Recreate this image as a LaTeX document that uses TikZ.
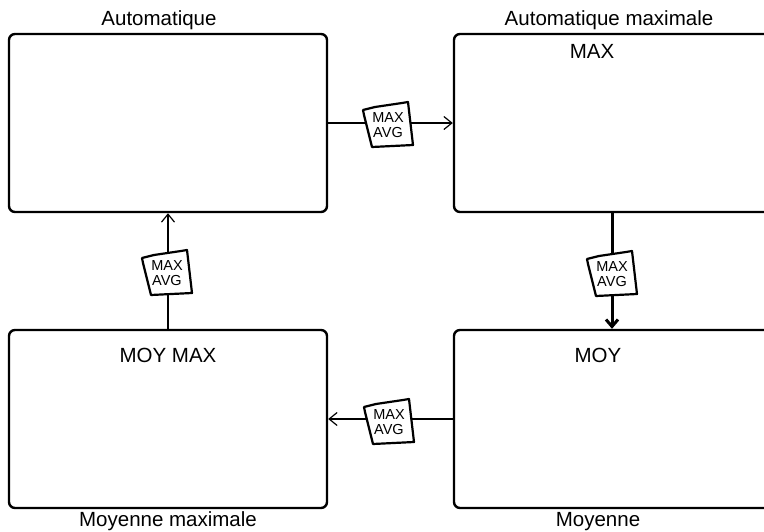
\documentclass[tikz,border=0pt]{standalone}
\usepackage{fontspec}
\setmainfont{Liberation Sans}
\usetikzlibrary{arrows.meta}
\begin{document}
\begin{tikzpicture}[x=1pt,y=-1pt,
  box/.style={draw, line width=2.4pt, rounded corners=6pt, minimum width=318pt, minimum height=178pt, inner sep=0pt},
  lbl/.style={font=\fontsize{20.5}{24}\selectfont, inner sep=0pt, anchor=base},
  conn/.style={line width=1.2pt, -{Straight Barb[length=8pt,width=13pt]}},
  thickconn/.style={line width=3pt, -{Straight Barb[length=7pt,width=12pt]}},
  tagbox/.style={draw, fill=white, line width=2.2pt, line join=round},
  tagtext/.style={font=\fontsize{14.5}{15}\selectfont, align=center, inner sep=0pt}
]
\useasboundingbox (0,0) rectangle (764,531);
\clip (0,0) rectangle (764,531);
\fill[white] (0,0) rectangle (764,531);

\node[box] (A) at (168,123) {};
\node[box, minimum width=316pt] (B) at (612,123) {};
\node[box] (C) at (168,419) {};
\node[box, minimum width=316pt] (D) at (612,419) {};

\node[lbl] (la) at (159,25) {Automatique};
\node[lbl] (lb) at (609,25) {Automatique maximale};
\node[lbl] (tmax) at (592,58) {MAX};
\node[lbl] (tmoymax) at (168,362) {MOY MAX};
\node[lbl] (tmoy) at (598,362) {MOY};
\node[lbl] (lc) at (168,526) {Moyenne maximale};
\node[lbl] (ld) at (598,526) {Moyenne};

\draw[conn] (A.east) -- (B.west);
\draw[thickconn] (B.south) -- (D.north);
\draw[conn] (D.west) -- (C.east);
\draw[conn] (C.north) -- (A.south);

\foreach \n/\px/\py in {t1/388/125, t2/612/274, t3/167/273, t4/389/422} {
  \coordinate (c\n) at (\px,\py);
  \draw[tagbox] (\px,\py) ++(-25,-15) -- ++(12,-3) -- ++(27,-4) -- ++(6,-1) -- ++(5,43) -- ++(-41,2) -- ++(-8,-32) -- cycle;
  \node[tagtext] (\n) at (c\n) {MAX\\AVG};
}
\end{tikzpicture}
\end{document}
